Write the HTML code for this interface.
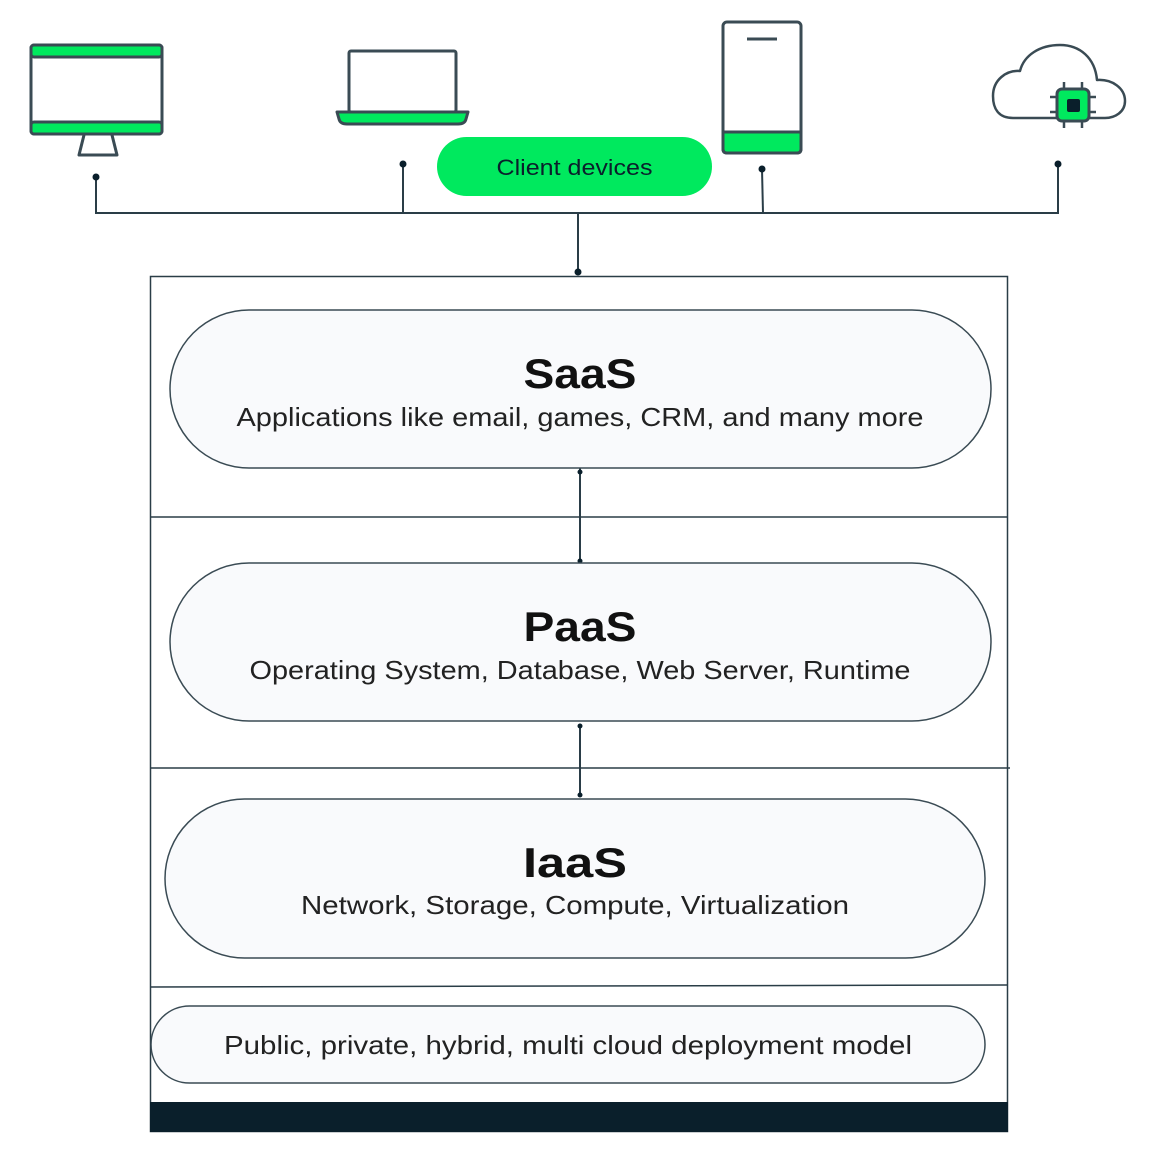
<!DOCTYPE html>
<html><head><meta charset="utf-8"><style>html,body{margin:0;padding:0;background:#fff}svg{display:block}</style></head>
<body>
<svg width="1153" height="1153" viewBox="0 0 1153 1153" xmlns="http://www.w3.org/2000/svg" font-family="Liberation Sans, sans-serif">
<g stroke="#3a4b54" stroke-width="3" fill="none" stroke-linejoin="round">
  <!-- monitor -->
  <rect x="31" y="45" width="131" height="89" rx="3" fill="#fff"/>
  <rect x="31" y="45" width="131" height="12" rx="3" fill="#00e95e"/>
  <rect x="31" y="122" width="131" height="12" rx="3" fill="#00e95e"/>
  <path d="M84 135 L79 155 L117 155 L112 135"/>
  <!-- laptop -->
  <rect x="349" y="51" width="107" height="61" rx="2"/>
  <path d="M337 112 L468 112 L466 119 Q465 124 458 124 L347 124 Q340 124 339 119 Z" fill="#00e95e"/>
  <!-- phone -->
  <rect x="723" y="22" width="78" height="131" rx="4" fill="#fff"/>
  <path d="M723 132 L801 132 L801 149 Q801 153 797 153 L727 153 Q723 153 723 149 Z" fill="#00e95e"/>
  <line x1="747" y1="39" x2="777" y2="39"/>
  <!-- cloud -->
  <path d="M1013,118 C998,118 993,108 993,96 C993,80 1006,70 1020,71 C1024,55 1040,45 1060,45 C1080,45 1095,58 1097,80 C1112,79 1125,88 1125,101 C1125,112 1115,118 1105,118 Z" stroke-width="2.5"/>
  <g stroke-width="2.5">
    <line x1="1064" y1="82" x2="1064" y2="128"/><line x1="1082" y1="82" x2="1082" y2="128"/>
    <line x1="1050" y1="97" x2="1096" y2="97"/><line x1="1050" y1="112" x2="1096" y2="112"/>
  </g>
  <rect x="1057" y="89" width="32" height="32" rx="5" fill="#00e95e"/>
  <rect x="1067" y="99" width="13" height="13" rx="2" fill="#0a1f2b" stroke="none"/>
</g>
<!-- client devices pill -->
<rect x="437" y="137" width="275" height="59" rx="29.5" fill="#00e95e"/>
<text x="574.5" y="175" font-size="22" text-anchor="middle" fill="#0a1f2b" textLength="156" lengthAdjust="spacingAndGlyphs">Client devices</text>
<!-- connectors -->
<g stroke="#2a3d47" stroke-width="2" fill="none">
  <polyline points="96,177 96,213 1058,213 1058,164"/>
  <line x1="403" y1="164" x2="403" y2="213"/>
  <line x1="762" y1="169" x2="763" y2="213"/>
  <line x1="578" y1="213" x2="578" y2="272"/>
  <line x1="580" y1="468" x2="580" y2="561"/>
  <line x1="580" y1="724" x2="580" y2="795"/>
</g>
<g fill="#0a1f2b">
  <circle cx="96" cy="177" r="3.5"/><circle cx="403" cy="164" r="3.5"/>
  <circle cx="762" cy="169" r="3.5"/><circle cx="1058" cy="164" r="3.5"/>
  <circle cx="578" cy="272" r="3.5"/>
  <circle cx="580" cy="472" r="2.5"/><circle cx="580" cy="561" r="2.5"/>
  <circle cx="580" cy="726" r="2.5"/><circle cx="580" cy="795" r="2.5"/>
</g>
<!-- main box -->
<rect x="150.5" y="276.5" width="857" height="855" fill="none" stroke="#2a3d47" stroke-width="1.5"/>
<g stroke="#2a3d47" stroke-width="1.5">
  <line x1="150" y1="517" x2="1007" y2="517"/>
  <line x1="150" y1="768" x2="1010" y2="768"/>
  <line x1="150" y1="987" x2="1007" y2="985"/>
</g>
<rect x="150" y="1102" width="858" height="30" fill="#0a1f2b"/>
<!-- pills -->
<g fill="#f9fafc" stroke="#3a4b54" stroke-width="1.5">
  <rect x="170" y="310" width="821" height="158" rx="79"/>
  <rect x="170" y="563" width="821" height="158" rx="79"/>
  <rect x="165" y="799" width="820" height="159" rx="79.5"/>
  <rect x="151" y="1006" width="834" height="77" rx="38.5"/>
</g>
<g fill="#111" text-anchor="middle">
  <text x="580" y="388" font-size="42" font-weight="bold" textLength="113" lengthAdjust="spacingAndGlyphs">SaaS</text>
  <text x="580" y="426" font-size="26" fill="#222" textLength="687" lengthAdjust="spacingAndGlyphs">Applications like email, games, CRM, and many more</text>
  <text x="580" y="641" font-size="42" font-weight="bold" textLength="113" lengthAdjust="spacingAndGlyphs">PaaS</text>
  <text x="580" y="679" font-size="26" fill="#222" textLength="661" lengthAdjust="spacingAndGlyphs">Operating System, Database, Web Server, Runtime</text>
  <text x="575" y="877" font-size="42" font-weight="bold" textLength="104" lengthAdjust="spacingAndGlyphs">IaaS</text>
  <text x="575" y="914" font-size="26" fill="#222" textLength="548" lengthAdjust="spacingAndGlyphs">Network, Storage, Compute, Virtualization</text>
  <text x="568" y="1054" font-size="26" fill="#222" textLength="688" lengthAdjust="spacingAndGlyphs">Public, private, hybrid, multi cloud deployment model</text>
</g>
</svg>
</body></html>
